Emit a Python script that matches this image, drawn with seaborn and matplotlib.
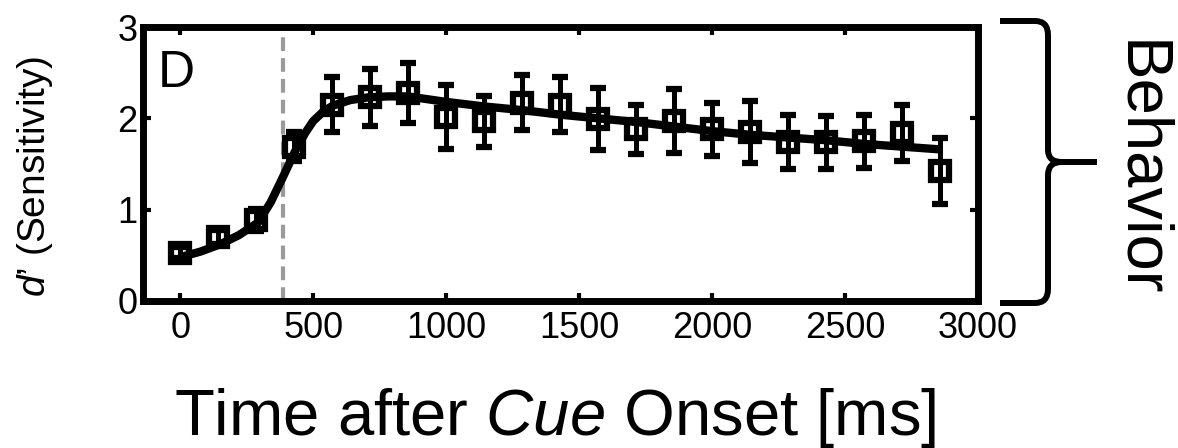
import numpy as np
import pandas as pd
import matplotlib
matplotlib.use("Agg")
import matplotlib.pyplot as plt
from matplotlib.path import Path
from matplotlib.patches import PathPatch
import seaborn as sns

# Behavioral sensitivity (d') after cue onset, mean +/- SEM per time bin
time_ms = [0, 143, 286, 429, 571, 714, 857, 1000, 1143, 1286, 1429,
           1571, 1714, 1857, 2000, 2143, 2286, 2429, 2571, 2714, 2857]
dprime = [0.53, 0.70, 0.89, 1.69, 2.15, 2.23, 2.28, 2.01, 1.97, 2.17, 2.15,
          1.99, 1.88, 1.97, 1.88, 1.85, 1.74, 1.74, 1.75, 1.84, 1.42]
dprime_sem = [0.06, 0.08, 0.12, 0.16, 0.30, 0.31, 0.33, 0.35, 0.28, 0.30, 0.30,
              0.34, 0.27, 0.35, 0.29, 0.34, 0.30, 0.29, 0.29, 0.31, 0.36]

# Fitted curve through the time course
fit_ms = [0, 75, 150, 220, 293, 340, 385, 432, 470, 500, 540, 575, 640, 707,
          780, 857, 1000, 1143, 1286, 1429, 1571, 1714, 1857, 2000, 2143,
          2286, 2429, 2571, 2714, 2857]
fit_d = [0.48, 0.54, 0.62, 0.72, 0.86, 1.08, 1.35, 1.64, 1.84, 1.97, 2.08,
         2.14, 2.20, 2.23, 2.24, 2.24, 2.18, 2.13, 2.09, 2.04, 2.00, 1.96,
         1.91, 1.86, 1.82, 1.79, 1.76, 1.72, 1.69, 1.66]

marker_time = 385          # vertical reference line
x_ticks = [0, 500, 1000, 1500, 2000, 2500, 3000]
y_ticks = [0, 1, 2, 3]

sns.set_theme(style="ticks")
plt.rcParams["font.family"] = ["Liberation Sans", "DejaVu Sans"]
plt.rcParams["mathtext.fontset"] = "custom"
plt.rcParams["mathtext.rm"] = "Liberation Sans"
plt.rcParams["mathtext.it"] = "Liberation Sans:italic"
for key in ["text.color", "axes.labelcolor", "xtick.color", "ytick.color",
            "xtick.labelcolor", "ytick.labelcolor"]:
    plt.rcParams[key] = "black"

W, H = 1178, 448
fig = plt.figure(figsize=(W / 100, H / 100), dpi=100)
fig.patch.set_facecolor("white")
ax = fig.add_axes([143 / W, 1 - 301 / H, (978 - 143) / W, (301 - 27) / H])

points = pd.DataFrame({"t": time_ms, "d": dprime, "sem": dprime_sem})
fit = pd.DataFrame({"t": fit_ms, "d": fit_d})

ax.axvline(marker_time, color="#9a9a9a", lw=3, dashes=(3.3, 1.7), zorder=1)
sns.lineplot(data=fit, x="t", y="d", ax=ax, color="black", lw=6,
             solid_capstyle="butt", zorder=2, legend=False)
ax.errorbar(points["t"], points["d"], yerr=points["sem"], fmt="s",
            mfc="none", mec="black", ms=13.5, mew=4.5, ecolor="black",
            elinewidth=3.6, capsize=5.5, capthick=3.6, zorder=3)

ax.set_xlim(-140, 3000)
ax.set_ylim(0, 3)
ax.set_xticks(x_ticks)
ax.set_yticks(y_ticks)
ax.set_xlabel("")
ax.set_ylabel("")
ax.tick_params(axis="both", direction="in", length=6, width=3, color="black",
               labelcolor="black", labelsize=26, top=True, right=True)
ax.tick_params(axis="x", pad=7)
ax.tick_params(axis="y", pad=4)
for s in ax.spines.values():
    s.set_visible(True)
    s.set_linewidth(5)
    s.set_color("black")

ax.text(0.018, 0.781, "D", transform=ax.transAxes, fontsize=37,
        ha="left", va="baseline", color="black")

fig.text(555 / W, 1 - 435 / H, r"Time after $Cue$ Onset [ms]", fontsize=47,
         ha="center", va="baseline", color="black")
fig.text(35 / W, 1 - 176 / H, r"$d$’ (Sensitivity)", fontsize=28,
         rotation=90, ha="center", va="center", color="black")

# Curly brace grouping the panel, with its label
def fx(x):
    return x / W

def fy(y):
    return 1 - y / H

verts = [
    (1000, 21), (1035, 21), (1048, 21), (1048, 35), (1048, 150),
    (1048, 162), (1062, 162), (1097, 162),
    (1000, 303), (1035, 303), (1048, 303), (1048, 289), (1048, 175),
    (1048, 162), (1062, 162),
]
codes = [
    Path.MOVETO, Path.LINETO, Path.CURVE3, Path.CURVE3, Path.LINETO,
    Path.CURVE3, Path.CURVE3, Path.LINETO,
    Path.MOVETO, Path.LINETO, Path.CURVE3, Path.CURVE3, Path.LINETO,
    Path.CURVE3, Path.CURVE3,
]
brace = Path([(fx(x), fy(y)) for x, y in verts], codes)
fig.add_artist(PathPatch(brace, transform=fig.transFigure, fill=False,
                         lw=4.3, color="black", capstyle="butt"))
fig.text(1139 / W, 1 - 169 / H, "Behavior", fontsize=47, rotation=-90,
         ha="center", va="center", color="black")

fig.savefig("out.png", dpi=100, facecolor="white")
